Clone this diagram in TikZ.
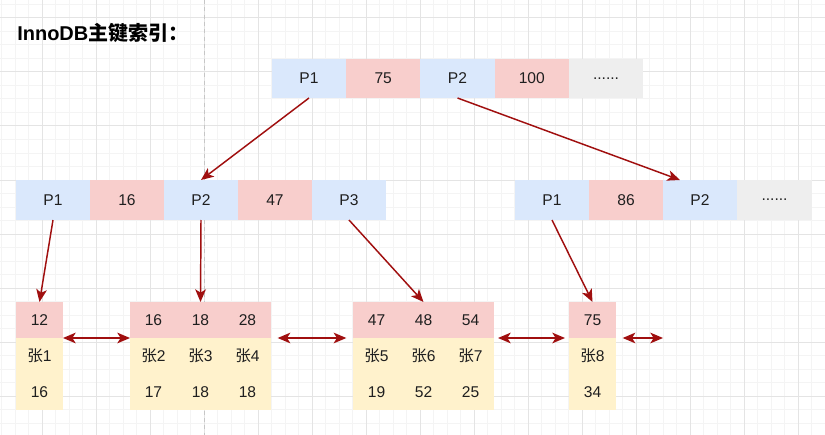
\documentclass[tikz,border=0pt]{standalone}
\usepackage{fontspec}
\setmainfont{Liberation Sans}
\newfontfamily\cjk{Noto Sans CJK SC}
\usetikzlibrary{arrows.meta,calc}
\definecolor{cblue}{HTML}{DAE8FC}
\definecolor{cred}{HTML}{F8CECC}
\definecolor{cyel}{HTML}{FFF2CC}
\definecolor{cgray}{HTML}{EEEEEE}
\definecolor{arr}{HTML}{A00F0F}
\definecolor{txt}{HTML}{1F1F1F}
\definecolor{gminor}{HTML}{F4F4F4}
\definecolor{gmajor}{HTML}{E4E4E4}
\begin{document}
\begin{tikzpicture}[x=0.75pt,y=-0.75pt,
  cellbase/.style={inner sep=0pt,outer sep=0pt,draw=none,text=txt,font=\fontsize{11.7}{13.5}\selectfont},
  topcell/.style={cellbase,minimum width=55.7pt,minimum height=29.25pt},
  midcell/.style={cellbase,minimum width=55.7pt,minimum height=30pt},
  leafcell/.style={cellbase,minimum width=35.3pt,minimum height=27pt},
  blue/.style={fill=cblue},
  red/.style={fill=cred},
  yel/.style={fill=cyel},
  gry/.style={fill=cgray},
  link/.style={draw=arr,line width=1.1pt,-{Stealth[length=9.5pt,width=8pt,inset=2.5pt]}},
  dbl/.style={draw=arr,line width=1.1pt,{Stealth[length=9.5pt,width=8pt,inset=2.5pt]}-{Stealth[length=9.5pt,width=8pt,inset=2.5pt]}},
  minorline/.style={draw=gminor,line width=0.75pt},
  majorline/.style={draw=gmajor,line width=0.75pt},
]
\useasboundingbox (0,0) rectangle (825,435);
\fill[white] (0,0) rectangle (825,435);
% grid
\foreach \i in {0,...,61} \draw[minorline] ({1.5+13.5*\i},0) -- ++(0,435);
\foreach \i in {0,...,32} \draw[minorline] (0,{4.5+13.5*\i}) -- ++(825,0);
\foreach \i in {0,...,14} \draw[majorline] ({42+54*\i},0) -- ++(0,435);
\foreach \i in {0,...,7} \draw[majorline] (0,{18+54*\i}) -- ++(825,0);
\draw[draw=gray!45,line width=0.75pt,dash pattern=on 3pt off 2.5pt] (204,0) -- (204,435);

% title
\node[anchor=west,inner sep=0pt,text=black,font=\bfseries\fontsize{15}{18}\selectfont] (title) at (17,33) {InnoDB{\cjk 主键索引：}};

% top row
\node[topcell,blue] (t1) at (309,78.5) {P1};
\node[topcell,red]  (t2) at (383.2,78.5) {75};
\node[topcell,blue] (t3) at (457.5,78.5) {P2};
\node[topcell,red]  (t4) at (531.8,78.5) {100};
\node[topcell,gry]  (t5) at (606,78.5) {......};

% middle left
\node[midcell,blue] (a1) at (53,200) {P1};
\node[midcell,red]  (a2) at (127,200) {16};
\node[midcell,blue] (a3) at (201,200) {P2};
\node[midcell,red]  (a4) at (275,200) {47};
\node[midcell,blue] (a5) at (349,200) {P3};

% middle right
\node[midcell,blue] (b1) at (552,200) {P1};
\node[midcell,red]  (b2) at (626,200) {86};
\node[midcell,blue] (b3) at (700,200) {P2};
\node[midcell,gry]  (b4) at (774.5,200) {......};

% leaf 1
\node[leafcell,red] (l1r) at (39.5,320) {12};
\node[leafcell,yel] (l1n) at (39.5,356) {{\cjk 张}1};
\node[leafcell,yel] (l1v) at (39.5,392) {16};

% leaf 2
\node[leafcell,red] (l2ar) at (153.5,320) {16};
\node[leafcell,red] (l2br) at (200.5,320) {18};
\node[leafcell,red] (l2cr) at (247.5,320) {28};
\node[leafcell,yel] (l2an) at (153.5,356) {{\cjk 张}2};
\node[leafcell,yel] (l2bn) at (200.5,356) {{\cjk 张}3};
\node[leafcell,yel] (l2cn) at (247.5,356) {{\cjk 张}4};
\node[leafcell,yel] (l2av) at (153.5,392) {17};
\node[leafcell,yel] (l2bv) at (200.5,392) {18};
\node[leafcell,yel] (l2cv) at (247.5,392) {18};

% leaf 3
\node[leafcell,red] (l3ar) at (376.5,320) {47};
\node[leafcell,red] (l3br) at (423.5,320) {48};
\node[leafcell,red] (l3cr) at (470.5,320) {54};
\node[leafcell,yel] (l3an) at (376.5,356) {{\cjk 张}5};
\node[leafcell,yel] (l3bn) at (423.5,356) {{\cjk 张}6};
\node[leafcell,yel] (l3cn) at (470.5,356) {{\cjk 张}7};
\node[leafcell,yel] (l3av) at (376.5,392) {19};
\node[leafcell,yel] (l3bv) at (423.5,392) {52};
\node[leafcell,yel] (l3cv) at (470.5,392) {25};

% leaf 4
\node[leafcell,red] (l4r) at (592.5,320) {75};
\node[leafcell,yel] (l4n) at (592.5,356) {{\cjk 张}8};
\node[leafcell,yel] (l4v) at (592.5,392) {34};

\coordinate (rend) at (663,338);

% tree links
\draw[link] (t1.south) -- (a3.north);
\draw[link] (t3.south) -- ([xshift=-15pt]b3.north);
\draw[link] (a1.south) -- (l1r.north);
\draw[link] (a3.south) -- (l2br.north);
\draw[link] (a5.south) -- (l3br.north);
\draw[link] (b1.south) -- (l4r.north);

% sibling links
\draw[dbl] (l1r.south east) -- (l2ar.south west);
\draw[dbl,shorten <=5pt,shorten >=5pt] (l2cr.south east) -- (l3ar.south west);
\draw[dbl,shorten <=3pt,shorten >=3pt] (l3cr.south east) -- (l4r.south west);
\draw[dbl,shorten <=5pt] (l4r.south east) -- (rend);
\end{tikzpicture}
\end{document}
